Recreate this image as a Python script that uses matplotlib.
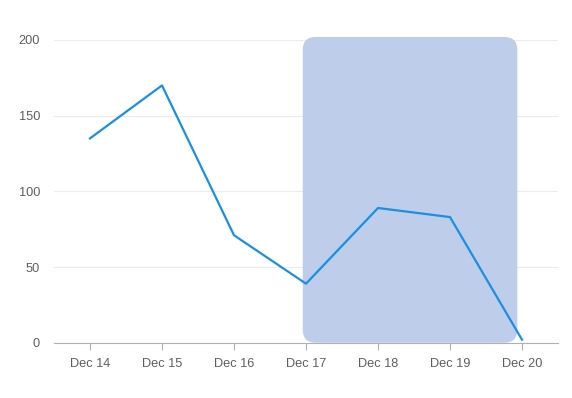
import matplotlib
matplotlib.use("Agg")
import matplotlib.pyplot as plt
from matplotlib.patches import FancyBboxPatch

# daily values
days = ["Dec 14", "Dec 15", "Dec 16", "Dec 17", "Dec 18", "Dec 19", "Dec 20"]
values = [135, 170, 71, 39, 89, 83, 2]
yticks = [0, 50, 100, 150, 200]

# highlighted range (in day index units)
hl_start, hl_end = 2.955, 5.935
hl_top = 202

plt.rcParams['font.family'] = ['Liberation Sans', 'DejaVu Sans']

fig = plt.figure(figsize=(5.72, 3.98), dpi=100)
W, H = 572, 398
ax = fig.add_axes([54 / W, (H - 342.7) / H, (558 - 54) / W, (342.7 - 40) / H])

x = list(range(len(days)))
ax.set_xlim(-0.5, 6.5)
ax.set_ylim(0, 200)

# rounded highlight box; mutation_aspect keeps the corners round on screen
px_x = (558 - 54) / 7.0
px_y = (342.7 - 40) / 200.0
box = FancyBboxPatch((hl_start, 0), hl_end - hl_start, hl_top,
                     boxstyle="round,pad=0,rounding_size=%f" % (13 / px_x),
                     mutation_aspect=px_x / px_y,
                     facecolor="#bdcdea", edgecolor="none", zorder=2, clip_on=False)
ax.add_patch(box)

ax.plot(x, values, color="#1a8fe3", linewidth=1.6, zorder=3)

ax.set_xticks(x)
ax.set_xticklabels(days)
ax.set_yticks(yticks)
ax.grid(axis="y", color="#ececec", linewidth=0.8, zorder=0)
ax.set_axisbelow(True)

for s in ["top", "right", "left"]:
    ax.spines[s].set_visible(False)
ax.spines["bottom"].set_color("#b0b0b0")
ax.spines["bottom"].set_zorder(4)

ax.tick_params(axis="x", colors="#b0b0b0", length=5, width=0.8, labelcolor="#5e5e5e",
               labelsize=9.2, pad=6)
ax.tick_params(axis="y", length=0, labelcolor="#5e5e5e", labelsize=9.2, pad=10)

fig.savefig("out.png", dpi=100)
